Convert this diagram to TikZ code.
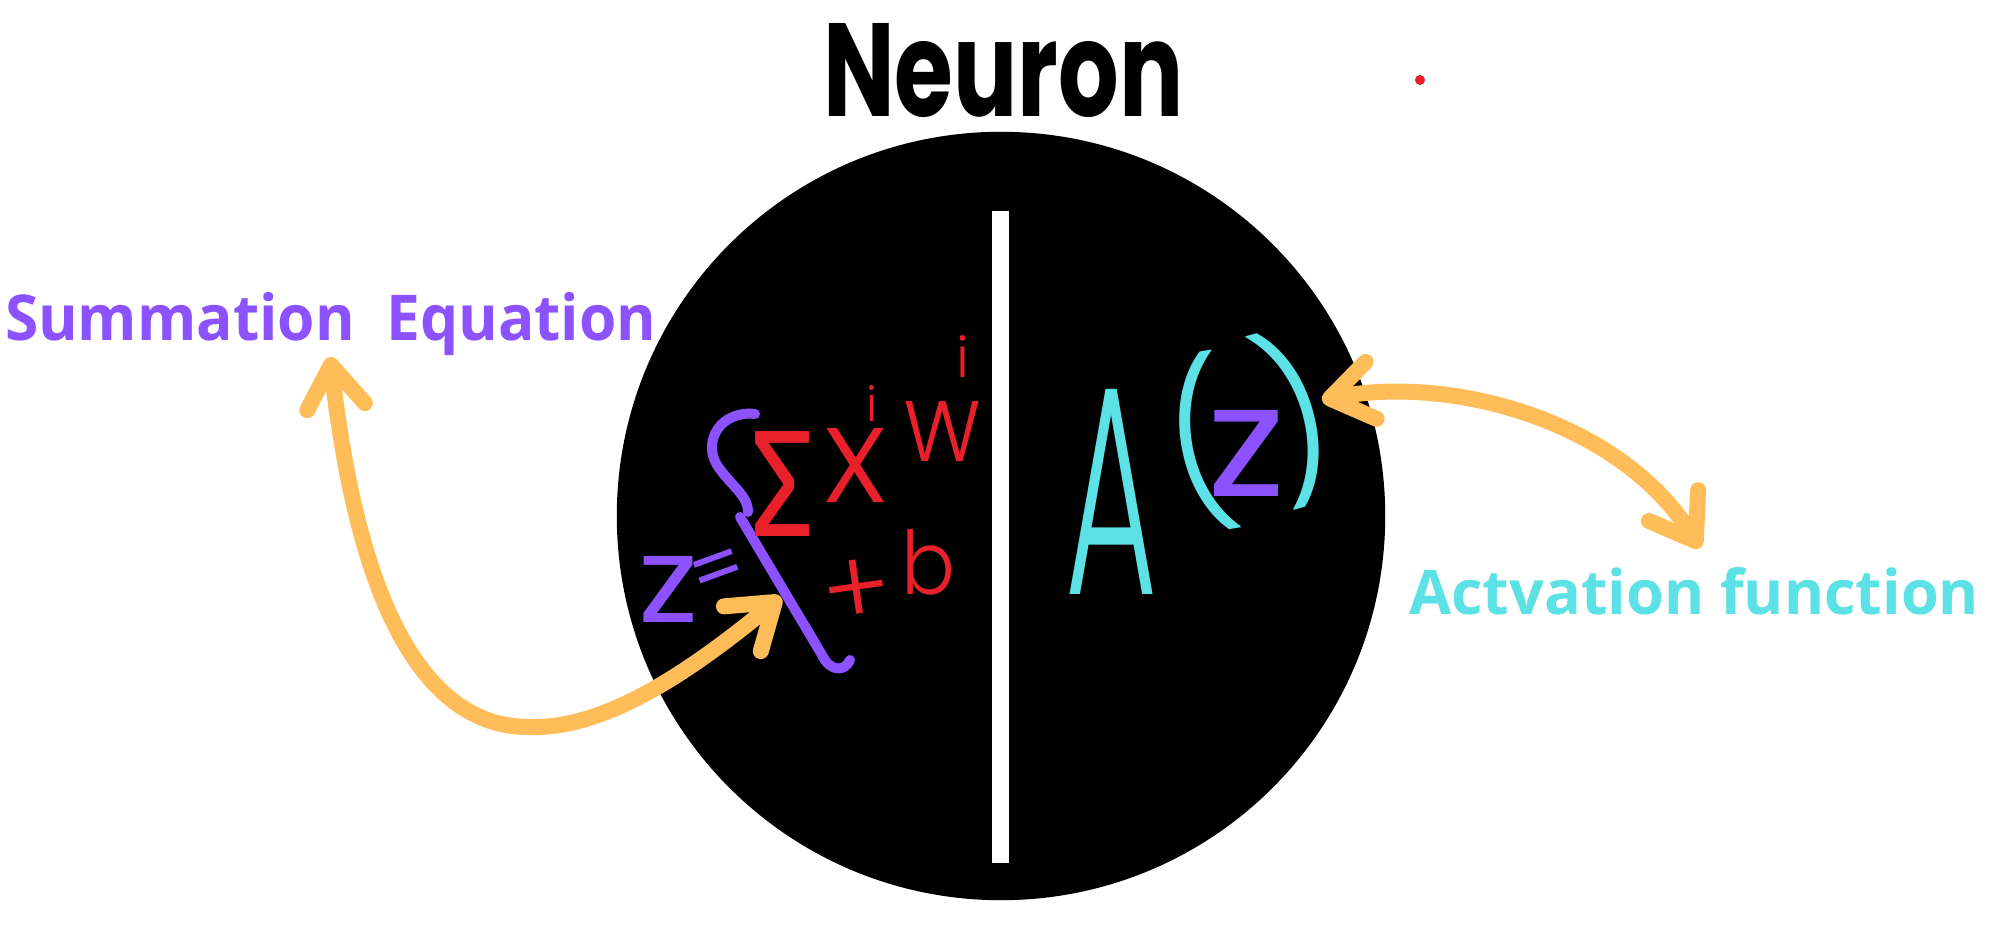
\documentclass[tikz,border=0pt]{standalone}
\usepackage{fontspec}
\usepackage{graphicx}
\usetikzlibrary{arrows.meta}
\newfontfamily\labelfont{Open Sans}
\newfontfamily\titlefont{Poppins}
\newfontfamily\handfont{Poppins Light}
\newfontfamily\greekfont{Fira Sans}
\definecolor{cpurple}{HTML}{8C52FF}
\definecolor{ccyan}{HTML}{5CE1E6}
\definecolor{corange}{HTML}{FFBD59}
\definecolor{cred}{HTML}{E8202A}
\begin{document}
\begin{tikzpicture}[x=0.01cm,y=-0.01cm,
  glyph/.style={inner sep=0pt, outer sep=0pt, anchor=south west},
  cglyph/.style={inner sep=0pt, outer sep=0pt, anchor=center},
  lbl/.style={inner sep=0pt, outer sep=0pt, anchor=base west},
  bidir/.style={draw=corange, line width=0.16cm, line cap=round,
    arrows={Straight Barb[length=0.42cm,width=0.58cm,round]-Straight Barb[length=0.42cm,width=0.58cm,round]}},
  hand/.style={line width=0.10cm, line cap=round, line join=round}]
\fill[white] (0,0) rectangle (2000,934);
\useasboundingbox (0,0) rectangle (2000,934);

% neuron body
\node[circle, fill=black, minimum size=7.68cm, inner sep=0pt] (neuron) at (1001,516) {};
\fill[white] (992,211) rectangle (1009,863);

% title
\node[lbl] (title) at (823,117) {\resizebox{3.60cm}{0.93cm}{\titlefont\bfseries Neuron}};

% labels
\node[lbl, text=cpurple] (sumlbl) at (5,341) {\resizebox{6.51cm}{0.48cm}{\labelfont\bfseries Summation\ \ Equation}};
\node[lbl, text=ccyan] (actlbl) at (1409,614) {\resizebox{5.70cm}{0.47cm}{\labelfont\bfseries Actvation function}};

% red dot
\fill[cred] (1420,80) circle (5);

% summation (left half)
\node[glyph, text=cpurple] (zl) at (638,623) {\resizebox{0.60cm}{0.66cm}{\titlefont z}};
\node[cglyph, text=cpurple, rotate=20] (eq) at (719,574) {\fontsize{22}{22}\selectfont\titlefont =};
\draw[hand, cpurple] (755,414) .. controls (722,410) and (702,440) .. (717,465)
  .. controls (730,485) and (748,495) .. (748,512);
\draw[hand, cpurple] (740,517) -- (822,655) .. controls (830,672) and (845,672) .. (850,660);
\node[glyph, text=cred] (sig) at (750,537) {\resizebox{0.64cm}{1.05cm}{\greekfont Σ}};
\node[glyph, text=cred] (xl) at (824,503) {\resizebox{0.62cm}{0.74cm}{\handfont x}};
\node[glyph, text=cred] (i1) at (866,422) {\resizebox{!}{0.36cm}{\handfont i}};
\node[glyph, text=cred] (wl) at (904,462) {\resizebox{0.76cm}{0.60cm}{\handfont w}};
\node[glyph, text=cred] (i2) at (956,378) {\resizebox{!}{0.42cm}{\handfont i}};
\node[cglyph, text=cred, rotate=8] (plus) at (857,593) {\fontsize{30}{30}\selectfont\handfont +};
\node[glyph, text=cred] (bl) at (901,595) {\resizebox{0.54cm}{0.65cm}{\handfont b}};

% activation (right half)
\node[glyph, text=ccyan] (al) at (1065,595) {\resizebox{0.92cm}{2.05cm}{\handfont A}};
\node[cglyph, text=ccyan, rotate=10] (lp) at (1200,443) {\resizebox*{!}{1.80cm}{\handfont (}};
\node[glyph, text=cpurple] (zr) at (1207,497) {\resizebox{0.78cm}{0.86cm}{\titlefont z}};
\node[cglyph, text=ccyan, rotate=15] (rp) at (1296,417) {\resizebox*{!}{1.80cm}{\handfont )}};

% connectors
\coordinate (a1s) at (781,597);
\coordinate (a1e) at (330,357);
\draw[bidir] (a1s) .. controls (680,680) and (600,730) .. (527,727)
  .. controls (380,725) and (345,480) .. (a1e);
\coordinate (a2s) at (1322,400);
\coordinate (a2e) at (1700,548);
\draw[bidir] (a2s) .. controls (1450,375) and (1620,420) .. (a2e);
\end{tikzpicture}
\end{document}
